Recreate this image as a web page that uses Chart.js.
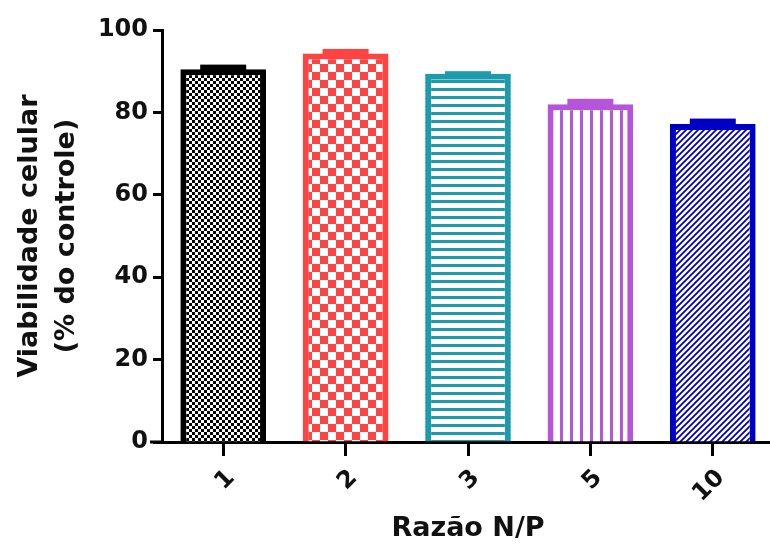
<!DOCTYPE html>
<html>
<head>
<meta charset="utf-8">
<script src="https://cdn.jsdelivr.net/npm/chart.js@4.4.1/dist/chart.umd.min.js"></script>
<style>
  html, body { margin: 0; padding: 0; background: #fff; overflow: hidden; }
  #wrap { width: 776px; height: 550px; }
</style>
</head>
<body>
<div id="wrap"><canvas id="chart" width="776" height="550"></canvas></div>
<script>
const categories = ['1', '2', '3', '5', '10'];
const viability = [90.5, 94.3, 89.4, 82.0, 77.2];
const errors = [1.1, 1.1, 0.6, 1.3, 1.3];
const yTicks = [0, 20, 40, 60, 80, 100];

const colors = ['#000000', '#ff4242', '#1c9bac', '#b655da', '#0000c4'];

// tile patterns like the Prism fills
function makePattern(kind, color) {
    const c = document.createElement('canvas');
    const g = c.getContext('2d');
    if (kind === 'fineCheck') {
        c.width = 6; c.height = 6;
        g.fillStyle = '#fff'; g.fillRect(0, 0, 6, 6);
        g.fillStyle = color;
        g.fillRect(0, 0, 3, 3); g.fillRect(3, 3, 3, 3);
    } else if (kind === 'check') {
        c.width = 16; c.height = 16;
        g.fillStyle = '#fff'; g.fillRect(0, 0, 16, 16);
        g.fillStyle = color;
        g.fillRect(0, 0, 8, 8); g.fillRect(8, 8, 8, 8);
    } else if (kind === 'hlines') {
        c.width = 8; c.height = 8;
        g.fillStyle = '#fff'; g.fillRect(0, 0, 8, 8);
        g.fillStyle = color; g.fillRect(0, 0, 8, 3);
    } else if (kind === 'vlines') {
        c.width = 10; c.height = 10;
        g.fillStyle = '#fff'; g.fillRect(0, 0, 10, 10);
        g.fillStyle = color; g.fillRect(0, 0, 3, 10);
    } else {
        c.width = 6; c.height = 6;
        g.fillStyle = '#fff'; g.fillRect(0, 0, 6, 6);
        g.strokeStyle = color; g.lineWidth = 1.8;
        g.beginPath();
        g.moveTo(-1, 7); g.lineTo(7, -1);
        g.moveTo(-4, 4); g.lineTo(4, -4);
        g.moveTo(2, 10); g.lineTo(10, 2);
        g.stroke();
    }
    return document.getElementById('chart').getContext('2d').createPattern(c, 'repeat');
}

const patterns = [
    makePattern('fineCheck', colors[0]),
    makePattern('check', colors[1]),
    makePattern('hlines', colors[2]),
    makePattern('vlines', colors[3]),
    makePattern('diag', colors[4])
];

// upper error bar (cap only, stem is hidden in the bar)
const errorBars = {
    id: 'errorBars',
    afterDatasetsDraw(chart) {
        const ctx = chart.ctx;
        const meta = chart.getDatasetMeta(0);
        const y = chart.scales.y;
        ctx.save();
        meta.data.forEach((bar, i) => {
            const top = y.getPixelForValue(viability[i] + errors[i]);
            ctx.fillStyle = colors[i];
            ctx.fillRect(bar.x - 23, top, 46, bar.y - top + 3);
        });
        // x axis line runs a bit past the y axis
        ctx.strokeStyle = '#000';
        ctx.lineWidth = 3;
        ctx.beginPath();
        ctx.moveTo(150, chart.chartArea.bottom);
        ctx.lineTo(chart.chartArea.left, chart.chartArea.bottom);
        ctx.stroke();
        ctx.restore();
    }
};

const tickFont = { family: 'DejaVu Sans', size: 24, weight: 'bold' };
const titleFont = { family: 'DejaVu Sans', size: 27, weight: 'bold' };

new Chart(document.getElementById('chart'), {
    type: 'bar',
    data: {
        labels: categories,
        datasets: [{
            data: viability,
            backgroundColor: patterns,
            borderColor: colors,
            borderWidth: 6,
            borderSkipped: 'start',
            barPercentage: 0.7,
            categoryPercentage: 1.0
        }]
    },
    options: {
        responsive: false,
        animation: false,
        events: [],
        layout: { padding: { top: 30, right: 2, left: 0, bottom: 0 } },
        plugins: { legend: { display: false }, tooltip: { enabled: false } },
        scales: {
            x: {
                offset: true,
                afterFit: s => { s.height = 108; },
                border: { display: true, color: '#000', width: 3 },
                grid: { offset: false, drawOnChartArea: false, tickLength: 14, tickWidth: 3, tickColor: '#000' },
                ticks: { color: '#111', font: tickFont, minRotation: 45, maxRotation: 45, padding: 8, labelOffset: 8 },
                title: { display: true, text: 'Razão N/P', color: '#111', font: titleFont, padding: { top: 0, bottom: 5 } }
            },
            y: {
                min: 0,
                max: 100,
                afterFit: s => { s.width = 162; },
                afterBuildTicks: s => { s.ticks = yTicks.map(v => ({ value: v })); },
                border: { display: true, color: '#000', width: 3 },
                grid: { drawOnChartArea: false, tickLength: 9, tickWidth: 3, tickColor: '#000' },
                ticks: { color: '#111', font: tickFont, padding: 5 },
                title: {
                    display: true,
                    text: ['Viabilidade celular', '(% do controle)'],
                    color: '#111',
                    font: { ...titleFont, lineHeight: 1.37 },
                    padding: { top: 11, bottom: 0 }
                }
            }
        }
    },
    plugins: [errorBars]
});
</script>
</body>
</html>
